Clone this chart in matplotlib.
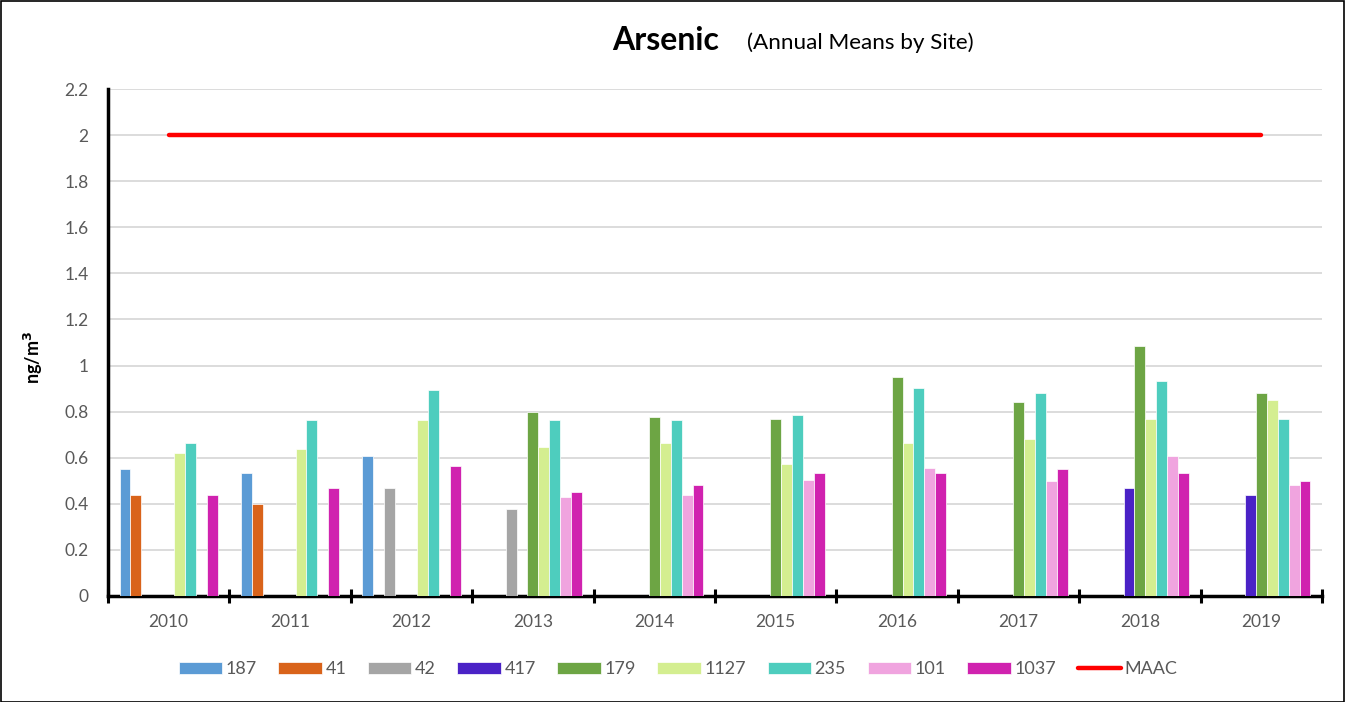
import numpy as np
import matplotlib
matplotlib.use("Agg")
import matplotlib.pyplot as plt
from matplotlib.ticker import FuncFormatter, FixedLocator

plt.rcParams['font.family'] = ['Lato', 'DejaVu Sans']

years = ['2010', '2011', '2012', '2013', '2014', '2015', '2016', '2017', '2018', '2019']
sites = ['187', '41', '42', '417', '179', '1127', '235', '101', '1037']
nan = np.nan
s187  = [0.55, 0.535, 0.607, nan, nan, nan, nan, nan, nan, nan]
s41   = [0.44, 0.40, nan, nan, nan, nan, nan, nan, nan, nan]
s42   = [nan, nan, 0.467, 0.379, nan, nan, nan, nan, nan, nan]
s417  = [nan, nan, nan, nan, nan, nan, nan, nan, 0.467, 0.438]
s179  = [nan, nan, nan, 0.80, 0.776, 0.769, 0.952, 0.841, 1.086, 0.879]
s1127 = [0.621, 0.636, 0.763, 0.645, 0.665, 0.571, 0.665, 0.681, 0.769, 0.850]
s235  = [0.665, 0.763, 0.894, 0.763, 0.763, 0.785, 0.901, 0.879, 0.931, 0.769]
s101  = [nan, nan, nan, 0.431, 0.438, 0.504, 0.556, 0.497, 0.607, 0.483]
s1037 = [0.44, 0.467, 0.563, 0.453, 0.482, 0.533, 0.533, 0.549, 0.534, 0.497]
maac  = [2, 2, 2, 2, 2, 2, 2, 2, 2, 2]

series = [s187, s41, s42, s417, s179, s1127, s235, s101, s1037]
colors = ['#5B9BD5', '#D9631A', '#A5A5A5', '#4A22C6', '#6DA544',
          '#D4EE90', '#4ECDBE', '#F0A4DF', '#D022AF']

fig = plt.figure(figsize=(13.45, 7.02), dpi=100)
ax = fig.add_axes([108/1345, 1-596/702, (1322-108)/1345, (596-89)/702])

x = np.arange(len(years))
w = 0.09
handles = []
for i, (vals, c, lab) in enumerate(zip(series, colors, sites)):
    b = ax.bar(x + (i-4)*w, vals, width=w, color=c, label=lab,
               edgecolor='white', linewidth=0.5, zorder=3)
    handles.append(b)
ln, = ax.plot(x, maac, color='#FF0000', lw=3.2, solid_capstyle='round', label='MAAC', zorder=4)
handles.append(ln)

ax.set_xlim(-0.5, len(years)-0.5)
ax.set_ylim(0, 2.2)
ax.set_yticks(np.arange(0, 2.21, 0.2))
ax.yaxis.set_major_formatter(FuncFormatter(lambda v, p: f"{round(v,1):g}"))
ax.grid(axis='y', color='#D9D9D9', lw=1.3, zorder=0)
ax.set_axisbelow(True)

ax.set_xticks(x)
ax.set_xticklabels(years)
ax.xaxis.set_minor_locator(FixedLocator(np.arange(-0.5, len(years), 1.0)))
ax.tick_params(axis='x', which='major', length=0, pad=13, labelsize=12.5, labelcolor='#595959')
ax.tick_params(axis='x', which='minor', length=10, width=2.2, direction='inout', color='black')
ax.tick_params(axis='y', length=0, pad=14, labelsize=12.5, labelcolor='#595959')

for s in ['top', 'right']:
    ax.spines[s].set_visible(False)
ax.spines['left'].set_linewidth(2.5)
ax.spines['bottom'].set_linewidth(2.5)
ax.spines['left'].set_color('black')
ax.spines['bottom'].set_color('black')

fig.text(612/1345, 1-41/702, 'Arsenic', fontsize=23, fontweight='bold', ha='left', va='center')
fig.text(747/1345, 1-43/702, '(Annual Means by Site)', fontsize=16.2, ha='left', va='center')
fig.text(33/1345, 1-357/702, 'ng/m$^\\mathbf{3}$', fontsize=13, fontweight='bold', rotation=90,
         ha='center', va='center')

labels = sites + ['MAAC']
leg = fig.legend(handles, labels, loc='center', bbox_to_anchor=(678/1345, 1-669/702), ncol=10,
                 frameon=False, fontsize=13, handlelength=2.4, handleheight=0.65,
                 handletextpad=0.2, columnspacing=1.2, labelcolor='#595959')

fig.patches.append(plt.Rectangle((0.5/1345, 0.5/702), 1-1.5/1345, 1-1.5/702, transform=fig.transFigure,
                                 fill=False, edgecolor='black', lw=1.2))

fig.savefig('out.png', dpi=100)
